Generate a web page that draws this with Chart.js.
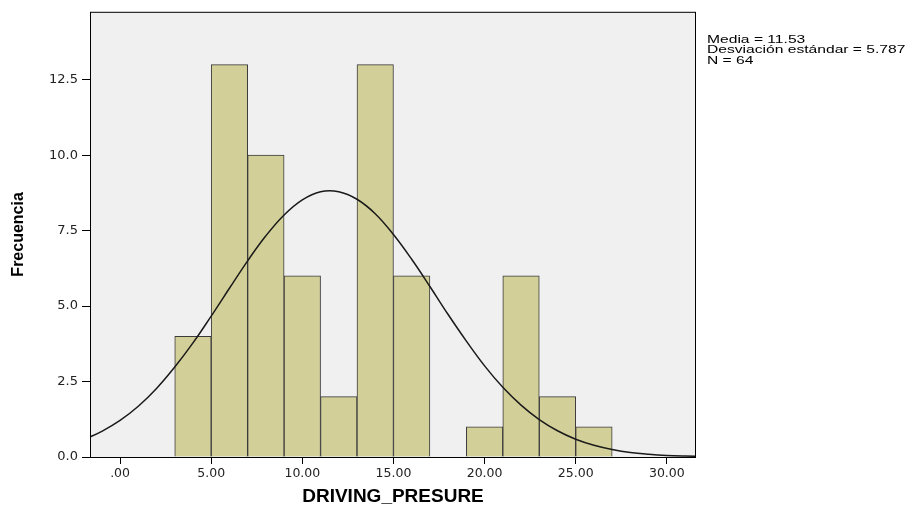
<!DOCTYPE html>
<html>
<head>
<meta charset="utf-8">
<script src="https://cdn.jsdelivr.net/npm/chart.js@4/dist/chart.umd.min.js"></script>
<style>
  body { margin: 0; background: #fff; }
  #wrap { width: 919px; height: 508px; }
</style>
</head>
<body>
<div id="wrap"><canvas id="hist"></canvas></div>
<script>
// histogram bins (centre of each 2-unit bin) and their counts
const binCenters = [4, 6, 8, 10, 12, 14, 16, 18, 20, 22, 24, 26];
const counts     = [4, 13, 10, 6, 2, 13, 6, 0, 1, 6, 2, 1];

// normal curve
const curveX = [-2, -1, 0, 1, 2, 3, 4, 5, 6, 7, 8, 9, 10, 11, 12, 13, 14, 15, 16,
                17, 18, 19, 20, 21, 22, 23, 24, 25, 26, 27, 28, 29, 30, 31, 32];
const curveY = [0.57, 0.85, 1.21, 1.68, 2.27, 2.98, 3.78, 4.67, 5.59, 6.50, 7.33,
                8.02, 8.52, 8.79, 8.79, 8.54, 8.06, 7.37, 6.55, 5.65, 4.72, 3.84,
                3.02, 2.31, 1.72, 1.24, 0.87, 0.59, 0.39, 0.25, 0.15, 0.09, 0.05,
                0.03, 0.02];

const xTicks = [0, 5, 10, 15, 20, 25, 30];
const yTicks = [0, 2.5, 5, 7.5, 10, 12.5];

const statsText = ['Media = 11.53', 'Desviación estándar = 5.787', 'N = 64'];

const plotBg = {
  id: 'plotBg',
  beforeDraw(chart) {
    const {ctx, chartArea: a} = chart;
    ctx.save();
    ctx.fillStyle = '#f0f0f0';
    ctx.fillRect(a.left, a.top, a.right - a.left, a.bottom - a.top);
    ctx.restore();
  },
  afterDraw(chart) {
    const {ctx, chartArea: a} = chart;
    ctx.save();
    ctx.strokeStyle = '#000';
    ctx.lineWidth = 1;
    ctx.strokeRect(a.left + 0.5, a.top + 0.5, a.right - a.left - 1, a.bottom - a.top);
    // stats box text, stretched a bit like the original export
    ctx.fillStyle = '#000';
    ctx.font = '11px "Liberation Sans", Arial, sans-serif';
    ctx.textBaseline = 'top';
    statsText.forEach((t, i) => {
      ctx.save();
      ctx.translate(707, 34 + i * 10.7);
      ctx.scale(1.42, 1);
      ctx.fillText(t, 0, 0);
      ctx.restore();
    });
    ctx.restore();
  }
};

new Chart(document.getElementById('hist'), {
  type: 'bar',
  data: {
    datasets: [{
      type: 'line',
      data: curveX.map((x, i) => ({x: x, y: curveY[i]})),
      borderColor: '#1a1a1a',
      borderWidth: 1.5,
      pointRadius: 0,
      tension: 0.4,
      fill: false,
      order: 0
    }, {
      type: 'bar',
      data: binCenters.map((x, i) => ({x: x, y: counts[i]})),
      backgroundColor: '#d3cf98',
      borderColor: '#3a3a3a',
      borderWidth: 1,
      barPercentage: 1,
      categoryPercentage: 1,
      order: 1
    }]
  },
  options: {
    responsive: true,
    maintainAspectRatio: false,
    animation: false,
    devicePixelRatio: 1,
    layout: { padding: { left: 0, top: 9, right: 223, bottom: 0 } },
    plugins: { legend: { display: false }, tooltip: { enabled: false } },
    scales: {
      x: {
        type: 'linear',
        min: -1.65,
        max: 31.6,
        offset: false,
        afterBuildTicks: s => { s.ticks = xTicks.map(v => ({value: v})); },
        afterFit: s => { s.height = 51; },
        border: { display: false },
        grid: { display: true, offset: false, drawOnChartArea: false, drawTicks: true, tickLength: 7, color: '#000' },
        ticks: {
          padding: 2,
          color: '#222',
          maxRotation: 0,
          font: { family: '"DejaVu Sans", sans-serif', size: 12.5 },
          callback: v => v === 0 ? '.00' : v.toFixed(2)
        },
        title: {
          display: true,
          text: 'DRIVING_PRESURE',
          color: '#000',
          padding: 0,
          font: { family: '"Liberation Sans", Arial, sans-serif', size: 19, weight: 'bold' }
        }
      },
      y: {
        min: 0,
        max: 14.75,
        afterBuildTicks: s => { s.ticks = yTicks.map(v => ({value: v})); },
        afterFit: s => { s.width = 90; },
        border: { display: false },
        grid: { display: true, drawOnChartArea: false, drawTicks: true, tickLength: 8, color: '#000' },
        ticks: {
          padding: 4,
          color: '#222',
          font: { family: '"DejaVu Sans", sans-serif', size: 13 },
          callback: v => v.toFixed(1)
        },
        title: {
          display: true,
          text: 'Frecuencia',
          color: '#000',
          padding: { top: 9, bottom: 0 },
          font: { family: '"Liberation Sans", Arial, sans-serif', size: 16, weight: 'bold' }
        }
      }
    }
  },
  plugins: [plotBg]
});
</script>
</body>
</html>
